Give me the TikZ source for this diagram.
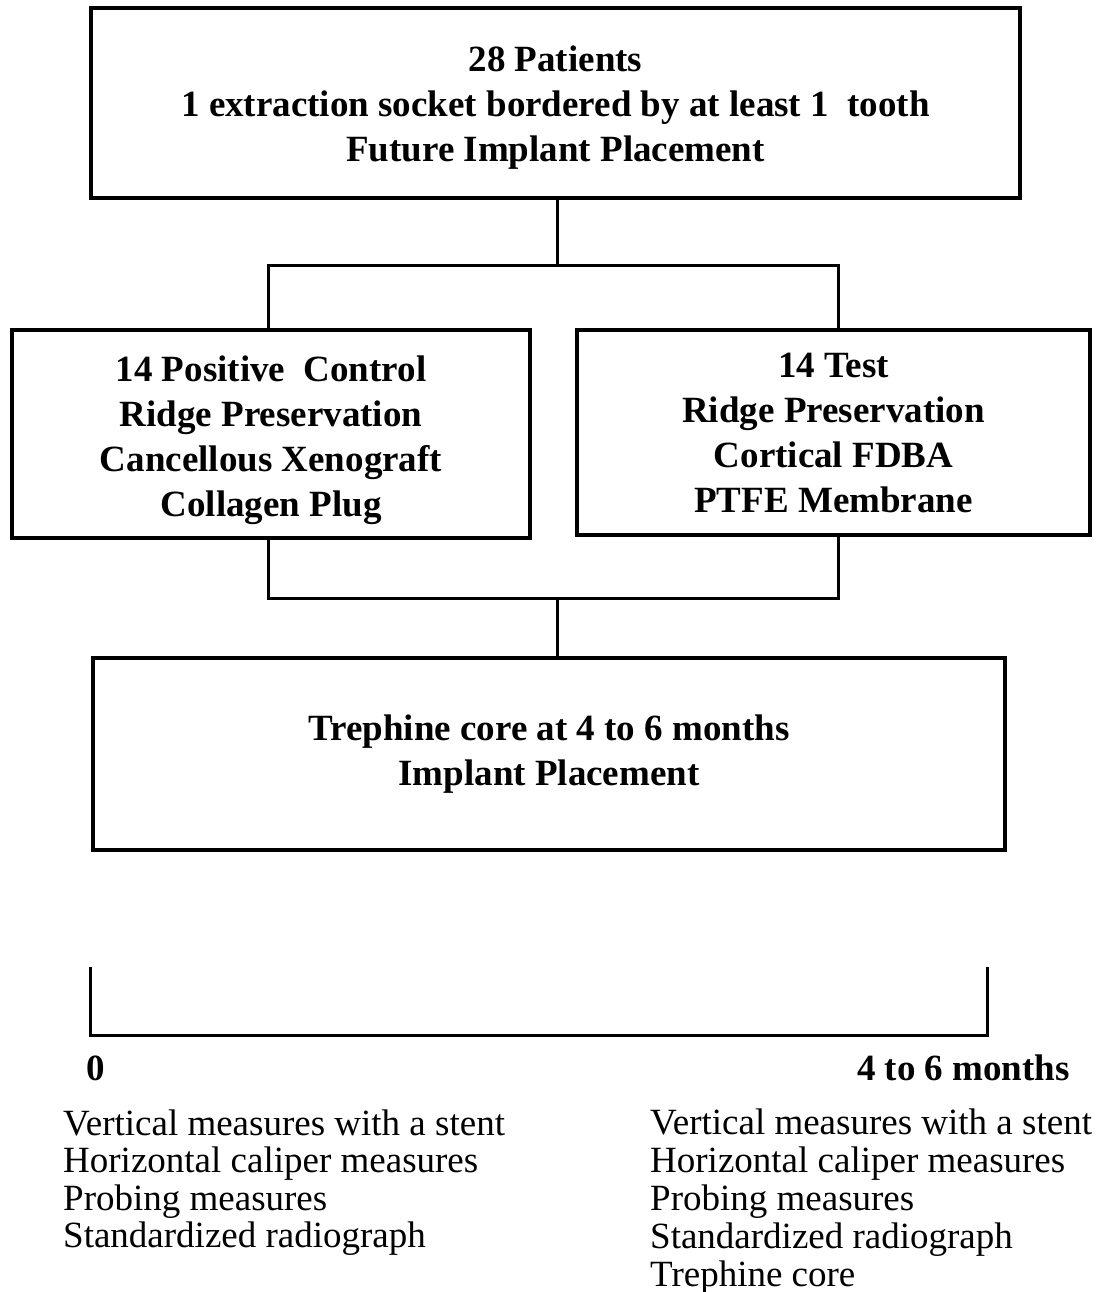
\documentclass[tikz,border=0pt]{standalone}
\usepackage{fontspec}
\setmainfont{Liberation Serif}
\begin{document}
\begin{tikzpicture}[x=1pt,y=-1pt,
  box/.style={draw, line width=3.5pt, inner sep=0pt, align=center,
    font=\fontsize{37}{45}\selectfont\bfseries},
  conn/.style={line width=3pt},
  lbl/.style={inner sep=0pt, font=\fontsize{37}{45}\selectfont\bfseries},
  lst/.style={inner sep=0pt, anchor=base west, font=\fontsize{37}{37.5}\selectfont}]
\useasboundingbox (0,0) rectangle (1100,1292);
\fill[white] (0,0) rectangle (1100,1292);

\node[box, minimum width=929pt, minimum height=190pt] (top) at (555.5,103)
  {\rule{0pt}{35pt}28 Patients\\1 extraction socket bordered by at least 1~~tooth\\Future Implant Placement};
\node[box, minimum width=518pt, minimum height=208pt] (left) at (271,434)
  {\rule{0pt}{39pt}14 Positive~~Control\\Ridge Preservation\\Cancellous Xenograft\\Collagen Plug};
\node[box, minimum width=513pt, minimum height=205pt] (right) at (833.5,432.5)
  {14 Test\\Ridge Preservation\\Cortical FDBA\\PTFE Membrane};
\node[box, minimum width=912pt, minimum height=192pt] (bot) at (549,754)
  {Trephine core at 4 to 6 months\\Implant Placement};

\coordinate (j1) at (557,265);
\coordinate (j2) at (557,598);
\draw[conn] (top.south -| j1) -- (j1);
\draw[conn] (268,265 |- left.north) -- (268,265) -- (838,265) -- (838,265 |- right.north);
\draw[conn] (268,598 |- left.south) -- (268,598) -- (838,598) -- (838,598 |- right.south);
\draw[conn] (j2) -- (j2 |- bot.north);

\coordinate (t0) at (90,968);
\coordinate (t1) at (90,1035);
\coordinate (t2) at (987,1035);
\coordinate (t3) at (987,968);
\draw[conn, line cap=rect] (t0) -- (t1) -- (t2) -- (t3);

\node[lbl, anchor=base west] (zero) at (86,1080) {0};
\node[lbl, anchor=base east] (end) at (1070,1080) {4 to 6 months};

\node[lst] (l1) at (63,1135) {Vertical measures with a stent};
\node[lst] (l2) at (63,1172.5) {Horizontal caliper measures};
\node[lst] (l3) at (63,1210) {Probing measures};
\node[lst] (l4) at (63,1247.5) {Standardized radiograph};

\node[lst] (r1) at (650,1134) {Vertical measures with a stent};
\node[lst] (r2) at (650,1172) {Horizontal caliper measures};
\node[lst] (r3) at (650,1210) {Probing measures};
\node[lst] (r4) at (650,1248) {Standardized radiograph};
\node[lst] (r5) at (650,1286) {Trephine core};
\end{tikzpicture}
\end{document}
